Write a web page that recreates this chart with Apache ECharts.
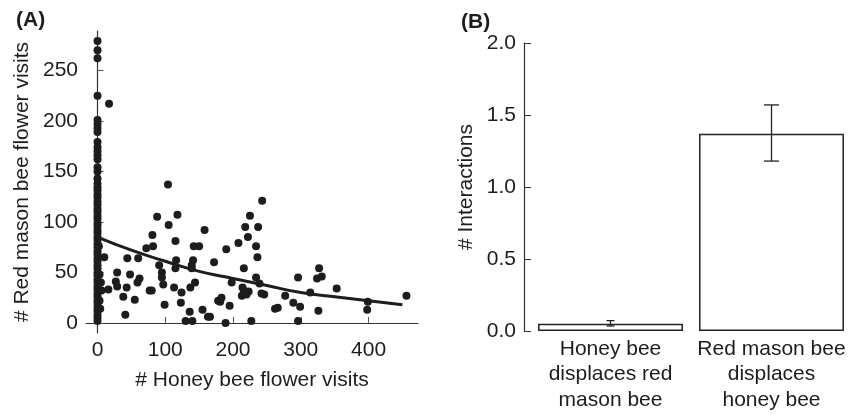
<!DOCTYPE html>
<html lang="en">
<head>
    <meta charset="UTF-8">
    <title>Bee visits and interactions</title>
    <script src="https://cdn.jsdelivr.net/npm/echarts@6/dist/echarts.min.js"></script>
</head>
<body style="margin:0">
<div id="myChart" style="width: 856px;height: 415px"></div>
</body>
<script>
    // (A) honey bee visits (x) vs red mason bee visits (y)
    var zeroColumnY = [279, 270, 262, 225, 201, 197, 193, 189, 179, 174, 170, 166, 162, 154, 150, 143, 138,
        134, 131, 127, 124, 120, 117, 113, 110, 106, 103, 99, 96, 92, 89, 85, 82, 78, 75, 71, 68, 64, 61,
        57, 54, 50, 47, 43, 40, 36, 33, 29, 26, 22, 19, 15, 12, 8, 5, 2];
    var visitsHoney = [3, 5, 6, 4, 3, 2, 10, 16, 17, 29, 27, 29, 38, 41, 43, 44, 48, 55, 59, 62, 60, 72, 77, 80,
        82, 81, 88, 91, 95, 95, 97, 99, 105, 104, 115, 118, 113, 115, 116, 124, 123, 130, 136, 140, 137, 144,
        139, 139, 141, 142, 150, 155, 158, 163, 166, 172, 178, 183, 181, 189, 190, 195, 198, 208, 214, 216,
        213, 219, 223, 220, 216, 222, 225, 227, 218, 237, 234, 234, 236, 243, 239, 242, 246, 262, 266, 277,
        289, 299, 296, 296, 314, 324, 327, 331, 326, 353, 399, 398, 456];
    var visitsMason = [48, 40, 32, 14, 22, 76, 65, 33, 217, 50, 41, 36, 26, 8, 35, 64, 48, 23, 40, 44, 64, 74, 32,
        32, 76, 87, 105, 57, 50, 45, 38, 18, 97, 137, 54, 107, 35, 81, 62, 30, 20, 2, 11, 2, 35, 40,
        57, 54, 62, 76, 76, 13, 92, 6, 6, 60, 22, 25, 21, 0, 73, 17, 40, 79, 35, 32, 27, 30, 31, 28,
        54, 85, 106, 2, 95, 95, 76, 45, 65, 121, 39, 29, 28, 14, 15, 27, 20, 16, 45, 2, 30, 44, 54,
        46, 12, 34, 21, 13, 27];
    // fitted curve
    var fitX = [0, 50, 100, 150, 200, 250, 300, 350, 400, 450];
    var fitY = [85, 72, 61, 51, 44, 37, 30, 26, 22, 18];

    // (B) interactions
    var categories = ['Honey bee\ndisplaces red\nmason bee', 'Red mason bee\ndisplaces\nhoney bee'];
    var interactions = [0.05, 1.37];
    var errLow = [0.035, 1.18];
    var errHigh = [0.072, 1.57];

    var xTicks = [0, 100, 200, 300, 400];
    var yTicks = [0, 50, 100, 150, 200, 250];

    var ink = '#1d1d1d';
    var font = 'Liberation Sans, Arial, sans-serif';
    var fs = 21;

    var points = [];
    zeroColumnY.forEach(function (v) { points.push([0, v]); });
    visitsHoney.forEach(function (v, i) { points.push([v, visitsMason[i]]); });
    var fitLine = fitX.map(function (v, i) { return [v, fitY[i]]; });
    var errData = categories.map(function (c, i) { return [i, errLow[i], errHigh[i]]; });

    var myChart = echarts.init(document.getElementById('myChart'));
    myChart.setOption({
        animation: false,
        textStyle: {fontFamily: font},
        title: [
            {text: '(A)', left: 11, top: 5, textStyle: {fontSize: fs, fontWeight: 'bold', color: ink, fontFamily: font}},
            {text: '(B)', left: 456, top: 7, textStyle: {fontSize: fs, fontWeight: 'bold', color: ink, fontFamily: font}}
        ],
        grid: [
            {left: 86, right: 438, top: 31, bottom: 82},
            {left: 530, right: 4, top: 43, bottom: 84}
        ],
        xAxis: [{
            gridIndex: 0,
            type: 'value',
            min: -17,
            max: 473,
            name: '# Honey bee flower visits',
            nameLocation: 'middle',
            nameGap: 37,
            nameTextStyle: {fontSize: fs, color: ink},
            splitLine: {show: false},
            axisLine: {lineStyle: {color: '#333', width: 1.2}},
            axisTick: {inside: true, length: 6, customValues: xTicks, lineStyle: {color: '#555'}},
            axisLabel: {customValues: xTicks, fontSize: fs, color: ink, margin: 7}
        }, {
            gridIndex: 1,
            type: 'category',
            data: categories,
            axisLine: {show: false},
            axisTick: {show: false},
            axisLabel: {fontSize: fs, color: ink, lineHeight: 25.5, margin: 5, interval: 0}
        }],
        yAxis: [{
            gridIndex: 0,
            type: 'value',
            min: -10,
            max: 289,
            name: '# Red mason bee flower visits',
            nameLocation: 'middle',
            nameGap: 53,
            nameTextStyle: {fontSize: fs, color: ink},
            splitLine: {show: false},
            axisLine: {show: true, lineStyle: {color: '#333', width: 1.2}},
            axisTick: {show: true, inside: true, length: 6, customValues: yTicks, lineStyle: {color: '#555'}},
            axisLabel: {customValues: yTicks, fontSize: fs, color: ink, margin: 8}
        }, {
            gridIndex: 1,
            type: 'value',
            min: 0,
            max: 2,
            interval: 0.5,
            offset: 6,
            name: '# Interactions',
            nameLocation: 'middle',
            nameGap: 47,
            nameTextStyle: {fontSize: fs, color: ink},
            splitLine: {show: false},
            axisLine: {show: true, lineStyle: {color: '#333', width: 1.2}},
            axisTick: {show: true, inside: true, length: 7, lineStyle: {color: '#333'}},
            axisLabel: {fontSize: fs, color: ink, margin: 8, formatter: function (v) { return v.toFixed(1); }}
        }],
        series: [{
            type: 'scatter',
            xAxisIndex: 0,
            yAxisIndex: 0,
            symbolSize: 8,
            itemStyle: {color: ink, opacity: 1},
            data: points
        }, {
            type: 'line',
            xAxisIndex: 0,
            yAxisIndex: 0,
            smooth: true,
            showSymbol: false,
            lineStyle: {color: ink, width: 3},
            data: fitLine
        }, {
            type: 'bar',
            xAxisIndex: 1,
            yAxisIndex: 1,
            barWidth: '90%',
            itemStyle: {color: '#fff', borderColor: '#222', borderWidth: 1.5},
            data: interactions
        }, {
            type: 'custom',
            xAxisIndex: 1,
            yAxisIndex: 1,
            z: 10,
            data: errData,
            renderItem: function (params, api) {
                var lo = api.coord([api.value(0), api.value(1)]);
                var hi = api.coord([api.value(0), api.value(2)]);
                var cap = params.dataIndex === 0 ? 4 : 7.5;
                var style = {stroke: '#222', lineWidth: 1.3};
                return {
                    type: 'group',
                    children: [
                        {type: 'line', shape: {x1: lo[0], y1: lo[1], x2: hi[0], y2: hi[1]}, style: style},
                        {type: 'line', shape: {x1: lo[0] - cap, y1: lo[1], x2: lo[0] + cap, y2: lo[1]}, style: style},
                        {type: 'line', shape: {x1: hi[0] - cap, y1: hi[1], x2: hi[0] + cap, y2: hi[1]}, style: style}
                    ]
                };
            }
        }]
    });
</script>
</html>
